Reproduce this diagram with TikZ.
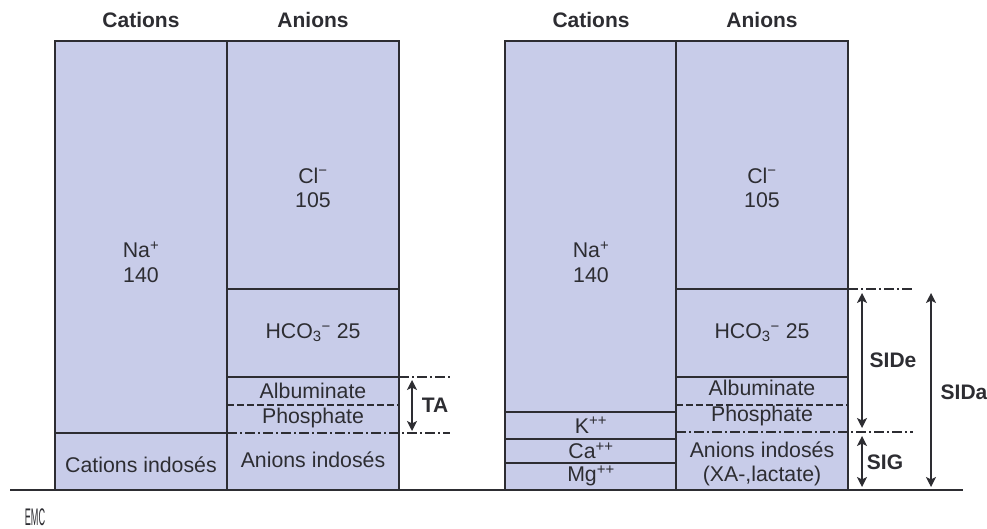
\documentclass[tikz,border=0pt]{standalone}
\usepackage{fontspec}
\setmainfont{Liberation Sans}
\usetikzlibrary{arrows.meta}
\definecolor{cellfill}{RGB}{200,204,233}
\definecolor{ink}{RGB}{45,45,50}
\tikzset{
  cell/.style={fill=cellfill, draw=ink, line width=1.4pt},
  sep/.style={draw=ink, line width=1.4pt},
  dsep/.style={draw=ink, line width=1.2pt, dash pattern=on 7pt off 3pt},
  ddsep/.style={draw=ink, line width=1.2pt, dash pattern=on 10pt off 3pt on 2pt off 3pt},
  lbl/.style={font=\fontsize{21.3}{24.5}\selectfont, text=ink, align=center, inner sep=0pt},
  hdr/.style={font=\fontsize{21}{24}\selectfont\bfseries, text=ink, inner sep=0pt},
  dim/.style={draw=ink, line width=1.4pt, {Stealth[length=10pt,width=10pt,inset=2.5pt]}-{Stealth[length=10pt,width=10pt,inset=2.5pt]}},
}
\begin{document}
\begin{tikzpicture}[x=1pt,y=-1pt]
\useasboundingbox (0,0) rectangle (987,529);
% ---------- left diagram ----------
\draw[cell] (55,41) rectangle (227,490);
\draw[cell] (227,41) rectangle (399,490);
\draw[sep] (55,433) -- (227,433);
\draw[sep] (227,289) -- (399,289);
\draw[sep] (227,377) -- (399,377);
\draw[dsep] (227,405) -- (399,405);
\draw[ddsep] (399,377) -- (450,377);
\draw[ddsep] (227,433) -- (450,433);
\node[hdr] (lcat) at (141,20) {Cations};
\node[hdr] (lan) at (313,20) {Anions};
\node[lbl] (lna) at (141,262) {Na\textsuperscript{+}\\140};
\node[lbl] (lcl) at (313,188) {Cl\textsuperscript{−}\\105};
\node[lbl] (lhco) at (313,333) {HCO\textsubscript{3}\textsuperscript{−} 25};
\node[lbl] (lalb) at (313,391) {Albuminate};
\node[lbl] (lpho) at (313,418) {Phosphate};
\node[lbl] (lci) at (141,465) {Cations indosés};
\node[lbl] (lai) at (313,460) {Anions indosés};
\coordinate (tat) at (412,380);
\coordinate (tab) at (412,431);
\draw[dim] (tat) -- (tab);
\node[hdr] (ta) at (435,405) {TA};
% ---------- right diagram ----------
\draw[cell] (505,41) rectangle (676,490);
\draw[cell] (676,41) rectangle (848,490);
\draw[sep] (505,412) -- (676,412);
\draw[sep] (505,439) -- (676,439);
\draw[sep] (505,463) -- (676,463);
\draw[sep] (676,289) -- (848,289);
\draw[sep] (676,377) -- (848,377);
\draw[dsep] (676,405) -- (848,405);
\draw[ddsep] (848,289) -- (913,289);
\draw[ddsep] (676,432) -- (913,432);
\node[hdr] (rcat) at (591,20) {Cations};
\node[hdr] (ran) at (762,20) {Anions};
\node[lbl] (rna) at (591,262) {Na\textsuperscript{+}\\140};
\node[lbl] (rcl) at (762,188) {Cl\textsuperscript{−}\\105};
\node[lbl] (rhco) at (762,333) {HCO\textsubscript{3}\textsuperscript{−} 25};
\node[lbl] (ralb) at (762,388) {Albuminate};
\node[lbl] (rpho) at (762,416) {Phosphate};
\node[lbl] (rk) at (591,425) {K\textsuperscript{++}};
\node[lbl] (rca) at (591,451) {Ca\textsuperscript{++}};
\node[lbl] (rmg) at (591,476) {Mg\textsuperscript{++}};
\node[lbl] (rai) at (762,450) {Anions indosés};
\node[lbl] (rxa) at (762,476) {(XA-,lactate)};
\coordinate (sidet) at (862,293);
\coordinate (sideb) at (862,428);
\coordinate (sigt) at (862,436);
\coordinate (sigb) at (862,487);
\coordinate (sidat) at (931,293);
\coordinate (sidab) at (931,487);
\draw[dim] (sidet) -- (sideb);
\draw[dim] (sigt) -- (sigb);
\draw[dim] (sidat) -- (sidab);
\node[hdr] (side) at (893,360) {SIDe};
\node[hdr] (sig) at (885,462) {SIG};
\node[hdr] (sida) at (964,392) {SIDa};
% ---------- baseline and logo ----------
\coordinate (bl) at (10,490);
\coordinate (br) at (963,490);
\draw[draw=ink, line width=1.8pt] (bl) -- (br);
\node[text=ink, inner sep=0pt, font=\fontsize{24}{26}\selectfont] (emc) at (35,517) {\scalebox{0.38}[1]{EMC}};
\end{tikzpicture}
\end{document}
